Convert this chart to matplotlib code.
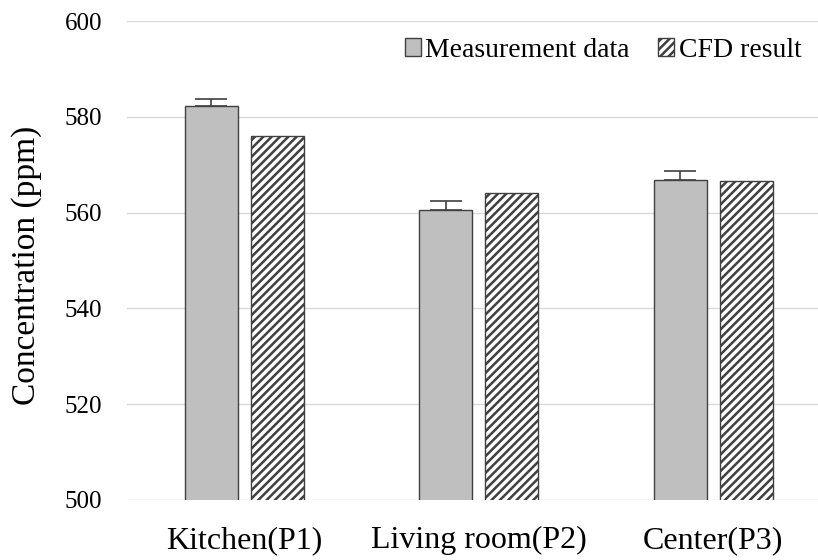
import matplotlib
matplotlib.use("Agg")
import matplotlib.pyplot as plt
import numpy as np

categories = ["Kitchen(P1)", "Living room(P2)", "Center(P3)"]
measurement = [582.2, 560.6, 566.9]
measurement_err = [1.6, 1.8, 1.7]
cfd = [575.9, 564.1, 566.7]
series_names = ["Measurement data", "CFD result"]
yticks = [500, 520, 540, 560, 580, 600]

plt.rcParams['font.family'] = ['Liberation Serif', 'DejaVu Serif']
plt.rcParams['hatch.linewidth'] = 1.8
plt.rcParams['hatch.color'] = 'black'

fig = plt.figure(figsize=(8.18, 5.6), dpi=100)
ax = fig.add_axes([127/818, 1 - 500/560, (818 - 127)/818, (500 - 21)/560])

x = np.arange(len(categories))
w = 0.226
off = 0.141
ax.bar(x - off, measurement, w, color='#bfbfbf', edgecolor='#404040',
       linewidth=1.0, label=series_names[0], zorder=3)
ax.errorbar(x - off, measurement, yerr=[[0]*3, measurement_err], fmt='none',
            ecolor='#404040', elinewidth=1.2, capsize=11.5, capthick=1.2, zorder=4)
ax.bar(x + off, cfd, w, color='white', edgecolor='#404040', hatch='////',
       linewidth=1.0, label=series_names[1], zorder=3)

ax.set_ylim(500, 600)
ax.set_xlim(-0.5, 2.447)
ax.set_yticks(yticks)
ax.set_xticks(x)
ax.set_xticklabels(categories, fontsize=23)
ax.tick_params(axis='y', labelsize=18, length=0, pad=18)
ax.tick_params(axis='x', length=0, pad=19)
ax.grid(axis='y', color='#d9d9d9', linewidth=1.0, zorder=0)
ax.set_axisbelow(True)
for s in ax.spines.values():
    s.set_visible(False)
ax.set_ylabel("Concentration (ppm)", fontsize=24)
ax.yaxis.set_label_coords((42 - 127) / 691, 0.49)

leg = ax.legend(loc='upper right', bbox_to_anchor=(1.0, 1.0), ncol=2, frameon=False,
                fontsize=20, handlelength=0.6, handleheight=0.6, handletextpad=0.15,
                columnspacing=1.0, borderaxespad=0.2)

fig.savefig("out.png", dpi=100)
